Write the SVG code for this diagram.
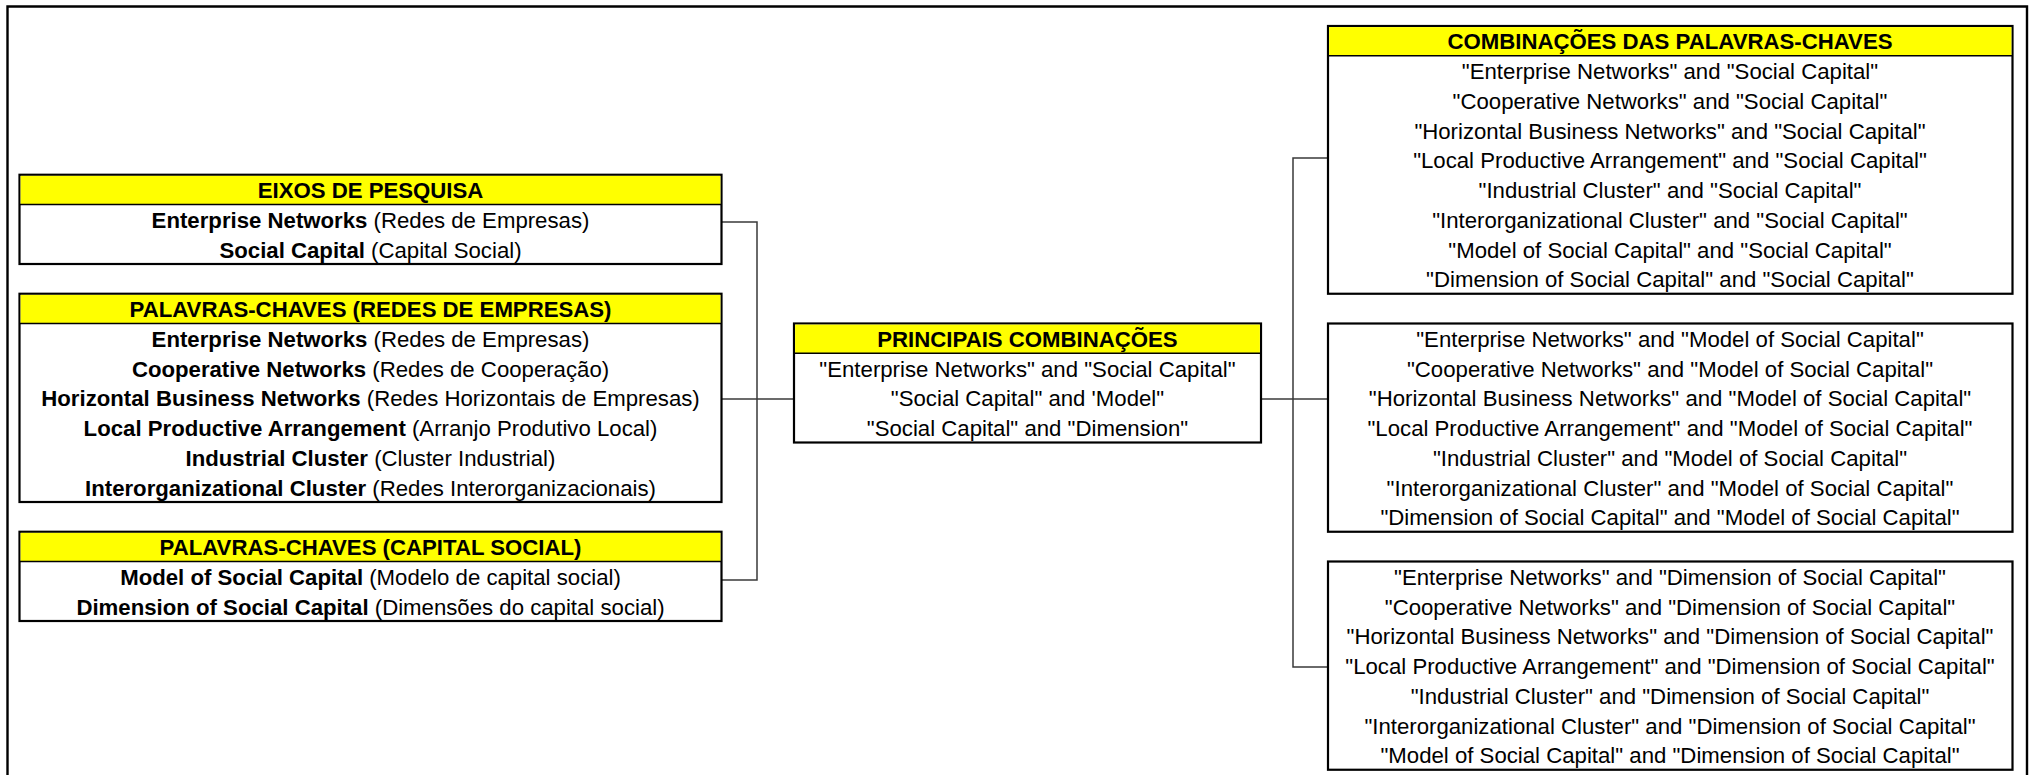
<svg xmlns="http://www.w3.org/2000/svg" width="2035" height="775" viewBox="0 0 2035 775">
  <style>
    text { font-family: "Liberation Sans", Arial, sans-serif; font-size: 22.2px; fill: #000; text-anchor: middle; }
    .b { font-weight: bold; }
    .box { fill: #fff; stroke: #000; stroke-width: 2.2; }
    .head { fill: #ffff00; stroke: none; }
    .sep { stroke: #000; stroke-width: 1.6; }
    .frame { fill: none; stroke: #000; stroke-width: 2.4; }
    .link { fill: none; stroke: #3a3a3a; stroke-width: 1.5; }
  </style>

  <rect width="2035" height="775" fill="#fff"/>
  <path class="frame" d="M7.5,790 V6.5 H2027 V790"/>

  <!-- connectors -->
  <g id="connectors">
    <path class="link" d="M722,222 H757 V580 H722"/>
    <path class="link" d="M722,399 H794"/>
    <path class="link" d="M1328,158 H1293 V667 H1328"/>
    <path class="link" d="M1261,399 H1328"/>
  </g>

  <!-- research axes -->
  <g id="eixos">
    <rect class="box" x="19.5" y="174.75" width="702" height="89.25"/>
    <rect class="head" x="20.6" y="175.85" width="699.8" height="28.65"/>
    <line class="sep" x1="19.5" y1="204.5" x2="721.5" y2="204.5"/>
    <text x="370.5" y="198.05" class="b">EIXOS DE PESQUISA</text>
    <text x="370.5" y="227.8"><tspan class="b">Enterprise Networks</tspan> (Redes de Empresas)</text>
    <text x="370.5" y="257.55"><tspan class="b">Social Capital</tspan> (Capital Social)</text>
  </g>

  <!-- keywords: enterprise networks -->
  <g id="palavras-redes">
    <rect class="box" x="19.5" y="293.75" width="702" height="208.25"/>
    <rect class="head" x="20.6" y="294.85" width="699.8" height="28.65"/>
    <line class="sep" x1="19.5" y1="323.5" x2="721.5" y2="323.5"/>
    <text x="370.5" y="317.05" class="b">PALAVRAS-CHAVES (REDES DE EMPRESAS)</text>
    <text x="370.5" y="346.8"><tspan class="b">Enterprise Networks</tspan> (Redes de Empresas)</text>
    <text x="370.5" y="376.55"><tspan class="b">Cooperative Networks</tspan> (Redes de Cooperação)</text>
    <text x="370.5" y="406.3"><tspan class="b">Horizontal Business Networks</tspan> (Redes Horizontais de Empresas)</text>
    <text x="370.5" y="436.05"><tspan class="b">Local Productive Arrangement</tspan> (Arranjo Produtivo Local)</text>
    <text x="370.5" y="465.8"><tspan class="b">Industrial Cluster</tspan> (Cluster Industrial)</text>
    <text x="370.5" y="495.55"><tspan class="b">Interorganizational Cluster</tspan> (Redes Interorganizacionais)</text>
  </g>

  <!-- keywords: social capital -->
  <g id="palavras-capital">
    <rect class="box" x="19.5" y="531.75" width="702" height="89.25"/>
    <rect class="head" x="20.6" y="532.85" width="699.8" height="28.65"/>
    <line class="sep" x1="19.5" y1="561.5" x2="721.5" y2="561.5"/>
    <text x="370.5" y="555.05" class="b">PALAVRAS-CHAVES (CAPITAL SOCIAL)</text>
    <text x="370.5" y="584.8"><tspan class="b">Model of Social Capital</tspan> (Modelo de capital social)</text>
    <text x="370.5" y="614.55"><tspan class="b">Dimension of Social Capital</tspan> (Dimensões do capital social)</text>
  </g>

  <!-- main combinations -->
  <g id="principais">
    <rect class="box" x="794" y="323.5" width="467" height="119"/>
    <rect class="head" x="795.1" y="324.6" width="464.8" height="28.65"/>
    <line class="sep" x1="794" y1="353.25" x2="1261" y2="353.25"/>
    <text x="1027.5" y="346.8" class="b">PRINCIPAIS COMBINAÇÕES</text>
    <text x="1027.5" y="376.55">"Enterprise Networks" and "Social Capital"</text>
    <text x="1027.5" y="406.3">"Social Capital" and 'Model"</text>
    <text x="1027.5" y="436.05">"Social Capital" and "Dimension"</text>
  </g>

  <!-- combinations with Social Capital -->
  <g id="comb-social-capital">
    <rect class="box" x="1328" y="26" width="684.5" height="267.75"/>
    <rect class="head" x="1329.1" y="27.1" width="682.3" height="28.65"/>
    <line class="sep" x1="1328" y1="55.75" x2="2012.5" y2="55.75"/>
    <text x="1670" y="49.3" class="b">COMBINAÇÕES DAS PALAVRAS-CHAVES</text>
    <text x="1670" y="79.05">"Enterprise Networks" and "Social Capital"</text>
    <text x="1670" y="108.8">"Cooperative Networks" and "Social Capital"</text>
    <text x="1670" y="138.55">"Horizontal Business Networks" and "Social Capital"</text>
    <text x="1670" y="168.3">"Local Productive Arrangement" and "Social Capital"</text>
    <text x="1670" y="198.05">"Industrial Cluster" and "Social Capital"</text>
    <text x="1670" y="227.8">"Interorganizational Cluster" and "Social Capital"</text>
    <text x="1670" y="257.55">"Model of Social Capital" and "Social Capital"</text>
    <text x="1670" y="287.3">"Dimension of Social Capital" and "Social Capital"</text>
  </g>

  <!-- combinations with Model of Social Capital -->
  <g id="comb-model">
    <rect class="box" x="1328" y="323.5" width="684.5" height="208.25"/>
    <text x="1670" y="346.8">"Enterprise Networks" and "Model of Social Capital"</text>
    <text x="1670" y="376.55">"Cooperative Networks" and "Model of Social Capital"</text>
    <text x="1670" y="406.3">"Horizontal Business Networks" and "Model of Social Capital"</text>
    <text x="1670" y="436.05">"Local Productive Arrangement" and "Model of Social Capital"</text>
    <text x="1670" y="465.8">"Industrial Cluster" and "Model of Social Capital"</text>
    <text x="1670" y="495.55">"Interorganizational Cluster" and "Model of Social Capital"</text>
    <text x="1670" y="525.3">"Dimension of Social Capital" and "Model of Social Capital"</text>
  </g>

  <!-- combinations with Dimension of Social Capital -->
  <g id="comb-dimension">
    <rect class="box" x="1328" y="561.5" width="684.5" height="208.25"/>
    <text x="1670" y="584.8">"Enterprise Networks" and "Dimension of Social Capital"</text>
    <text x="1670" y="614.55">"Cooperative Networks" and "Dimension of Social Capital"</text>
    <text x="1670" y="644.3">"Horizontal Business Networks" and "Dimension of Social Capital"</text>
    <text x="1670" y="674.05">"Local Productive Arrangement" and "Dimension of Social Capital"</text>
    <text x="1670" y="703.8">"Industrial Cluster" and "Dimension of Social Capital"</text>
    <text x="1670" y="733.55">"Interorganizational Cluster" and "Dimension of Social Capital"</text>
    <text x="1670" y="763.3">"Model of Social Capital" and "Dimension of Social Capital"</text>
  </g>
</svg>
